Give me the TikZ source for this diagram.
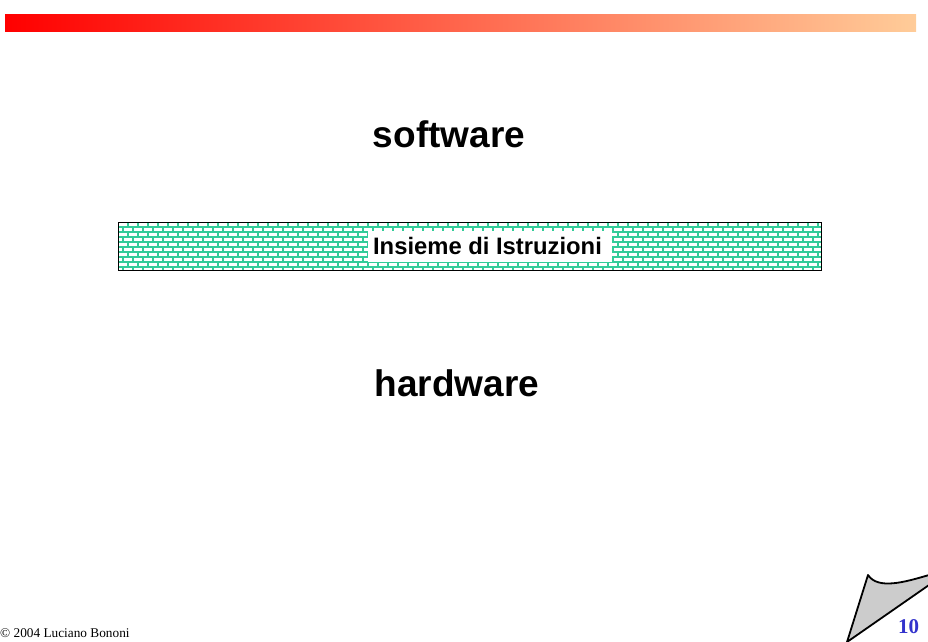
\documentclass[tikz,border=0pt]{standalone}
\usepackage{fontspec}
\setmainfont{Liberation Serif}
\newfontfamily\arialfont{Liberation Sans}
\usetikzlibrary{shadings}
\definecolor{brickline}{RGB}{51,204,153}
\definecolor{barend}{RGB}{255,204,153}
\definecolor{pagenum}{RGB}{51,51,204}
\definecolor{curlgray}{RGB}{204,204,204}
\tikzset{
  bigword/.style={anchor=base, inner sep=0pt, font=\arialfont\bfseries\fontsize{37}{44}\selectfont},
  isalabel/.style={fill=white, inner sep=0pt, minimum width=244, minimum height=31,
    font=\arialfont\bfseries\fontsize{23.8}{28}\selectfont},
  brick/.style={draw=brickline, line width=1.6pt},
  footer/.style={anchor=base west, inner sep=0pt, font=\fontsize{13.3}{16}\selectfont},
}
\begin{document}
\begin{tikzpicture}[x=1pt, y=-1pt]
\useasboundingbox (0,0) rectangle (928,641);
% title bar gradient
\shade[left color=red, right color=barend] (5,14) rectangle (916,31);
% brick wall strip
\begin{scope}
  \clip (118,222) rectangle (821,270);
  \foreach \r in {0,...,9} {
    \draw[brick] (118,{222+5*\r}) -- (821,{222+5*\r});
    \foreach \c in {-1,...,71} {
      \draw[brick] ({118+10*\c+5*mod(\r,2)},{222+5*\r}) -- ++(0,5);
    }
  }
\end{scope}
\node[draw=black, line width=0.9pt, minimum width=703, minimum height=48, inner sep=0pt] (wall) at (469.5,246) {};
\node[isalabel] (isa) at (490,246.5) {};
\node[anchor=base, inner sep=0pt, font=\arialfont\bfseries\fontsize{23.8}{28}\selectfont] (isatext) at (487.5,254) {Insieme di Istruzioni};
% layer labels
\node[bigword] (sw) at (449,147) {software};
\node[bigword] (hw) at (457,396) {hardware};
% page curl
\draw[fill=curlgray, line width=1.8pt, line join=round] (847,642) -- (868,575) .. controls (878,590) and (905,582) .. (929,575) -- (929,585) -- cycle;
% footer
\node[footer] (copy) at (0,637) {\textcopyright{} 2004 Luciano Bononi};
\node[anchor=base, inner sep=0pt, text=pagenum, font=\bfseries\fontsize{21}{25}\selectfont] (page) at (908.5,633) {10};
\end{tikzpicture}
\end{document}
